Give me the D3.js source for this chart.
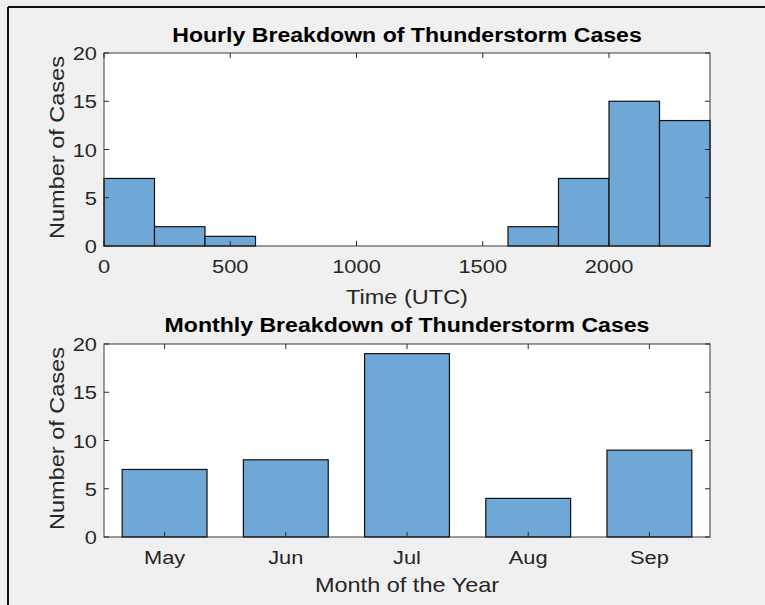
<!DOCTYPE html>
<html><head><meta charset="utf-8">
<script src="https://cdn.jsdelivr.net/npm/d3@7"></script>
<style>
html,body{margin:0;padding:0;background:#f0f0f0;}
svg{display:block;}
text{font-family:"Liberation Sans",Arial,Helvetica,sans-serif;fill:#262626;}
</style></head>
<body>
<script>
// Hourly histogram
const hourBinStart = [0, 200, 400, 600, 800, 1000, 1200, 1400, 1600, 1800, 2000, 2200];
const hourBinEnd   = [200, 400, 600, 800, 1000, 1200, 1400, 1600, 1800, 2000, 2200, 2400];
const hourCounts   = [7, 2, 1, 0, 0, 0, 0, 0, 2, 7, 15, 13];
const hourTicks    = [0, 500, 1000, 1500, 2000];
// Monthly bars
const months       = ["May", "Jun", "Jul", "Aug", "Sep"];
const monthCounts  = [7, 8, 19, 4, 9];
const yTicks       = [0, 5, 10, 15, 20];

const W = 765, H = 605;
const svg = d3.select("body").append("svg").attr("width", W).attr("height", H);
svg.append("rect").attr("width", W).attr("height", H).attr("fill", "#f0f0f0");
svg.append("line").attr("x1", 8).attr("x2", W).attr("y1", 7).attr("y2", 7).attr("stroke", "#111").attr("stroke-width", 2);
svg.append("line").attr("x1", 8).attr("x2", 8).attr("y1", 7).attr("y2", H).attr("stroke", "#111").attr("stroke-width", 2);

const L = 104, R = 710;
const fill = "#6fa8d6";
const axisCol = "#262626";

function label(g, x, y, txt, fs, sx, anchor, extra) {
  const t = g.append("text")
    .attr("transform", `translate(${x},${y}) ${extra || ""} scale(${sx},1)`)
    .attr("text-anchor", anchor).attr("font-size", fs).text(txt);
  return t;
}

function frame(top, bottom) {
  const y = d3.scaleLinear().domain([0, 20]).range([bottom, top]);
  const g = svg.append("g");
  g.append("rect").attr("x", L).attr("y", top).attr("width", R - L).attr("height", bottom - top).attr("fill", "#fff");
  return {y, g};
}

function finish(g, top, bottom, y, xTickPos, xTickLabels, title, xlabel, titleY, xlabelY) {
  const tl = 5;
  yTicks.forEach(v => {
    g.append("line").attr("x1", L).attr("x2", L + tl).attr("y1", y(v)).attr("y2", y(v)).attr("stroke", axisCol);
    g.append("line").attr("x1", R).attr("x2", R - tl).attr("y1", y(v)).attr("y2", y(v)).attr("stroke", axisCol);
    label(g, L - 7, y(v) + 7, v, 19, 1.15, "end");
  });
  xTickPos.forEach((p, i) => {
    g.append("line").attr("x1", p).attr("x2", p).attr("y1", bottom).attr("y2", bottom - tl).attr("stroke", axisCol);
    g.append("line").attr("x1", p).attr("x2", p).attr("y1", top).attr("y2", top + tl).attr("stroke", axisCol);
    label(g, p, bottom + 27, xTickLabels[i], 19, 1.15, "middle");
  });
  g.append("rect").attr("x", L).attr("y", top).attr("width", R - L).attr("height", bottom - top)
    .attr("fill", "none").attr("stroke", axisCol).attr("stroke-width", 1.2).attr("stroke-opacity", 0.75);
  label(g, (L + R) / 2, titleY, title, 21, 1.1, "middle").attr("font-weight", "bold").style("fill", "#000");
  label(g, (L + R) / 2, xlabelY, xlabel, 21, 1.12, "middle");
  label(g, 64, (top + bottom) / 2 - 2, "Number of Cases", 21, 1.12, "middle", "rotate(-90)");
}

// Top: histogram
{
  const top = 53, bottom = 246;
  const x = d3.scaleLinear().domain([0, 2400]).range([L, R]);
  const {y, g} = frame(top, bottom);
  g.selectAll(".hb").data(hourCounts.map((c, i) => ({c, s: hourBinStart[i], e: hourBinEnd[i]})).filter(d => d.c > 0))
    .enter().append("rect")
    .attr("x", d => x(d.s)).attr("width", d => x(d.e) - x(d.s))
    .attr("y", d => y(d.c)).attr("height", d => y(0) - y(d.c))
    .attr("fill", fill).attr("stroke", "#111").attr("stroke-width", 1.2);
  finish(g, top, bottom, y, hourTicks.map(x), hourTicks, "Hourly Breakdown of Thunderstorm Cases", "Time (UTC)", 42, 304);
}

// Bottom: monthly bars
{
  const top = 344, bottom = 537;
  const x = d3.scaleLinear().domain([0.5, months.length + 0.5]).range([L, R]);
  const {y, g} = frame(top, bottom);
  const bw = 0.7;
  g.selectAll(".mb").data(monthCounts.map((c, i) => ({c, i: i + 1})))
    .enter().append("rect")
    .attr("x", d => x(d.i - bw / 2)).attr("width", d => x(d.i + bw / 2) - x(d.i - bw / 2))
    .attr("y", d => y(d.c)).attr("height", d => y(0) - y(d.c))
    .attr("fill", fill).attr("stroke", "#111").attr("stroke-width", 1.2);
  finish(g, top, bottom, y, months.map((m, i) => x(i + 1)), months, "Monthly Breakdown of Thunderstorm Cases", "Month of the Year", 332, 592);
}
</script>
</body></html>
